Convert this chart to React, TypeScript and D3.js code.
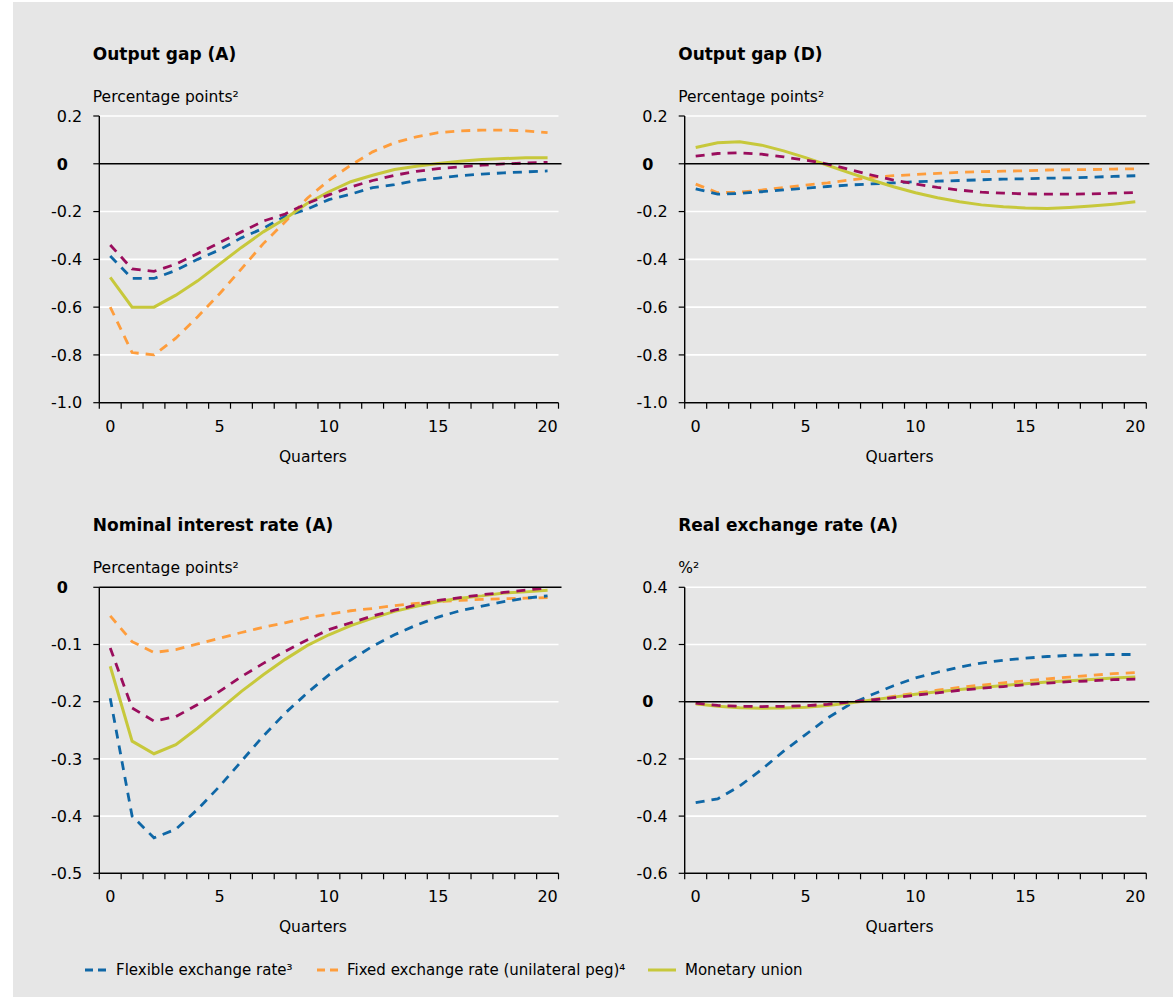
import React from "react";
import * as d3 from "d3";

const quarters = d3.range(0, 21);

// Output gap (A)
const ogA_flex = [-0.386, -0.48, -0.48, -0.446, -0.40, -0.36, -0.31, -0.27, -0.22, -0.19, -0.15, -0.127, -0.10, -0.087, -0.07, -0.06, -0.05, -0.043, -0.038, -0.034, -0.03];
const ogA_fixed = [-0.60, -0.79, -0.80, -0.73, -0.64, -0.544, -0.44, -0.334, -0.243, -0.145, -0.069, -0.006, 0.05, 0.088, 0.113, 0.13, 0.138, 0.141, 0.141, 0.138, 0.13];
const ogA_union = [-0.475, -0.60, -0.60, -0.55, -0.49, -0.42, -0.35, -0.285, -0.23, -0.166, -0.117, -0.075, -0.048, -0.024, -0.01, 0.001, 0.011, 0.018, 0.022, 0.025, 0.025];
const ogA_other = [-0.34, -0.44, -0.45, -0.42, -0.376, -0.33, -0.285, -0.24, -0.21, -0.166, -0.13, -0.097, -0.07, -0.048, -0.032, -0.02, -0.013, -0.006, 0.0, 0.003, 0.006];

// Output gap (D)
const ogD_flex = [-0.105, -0.127, -0.124, -0.117, -0.109, -0.102, -0.095, -0.089, -0.084, -0.08, -0.075, -0.073, -0.07, -0.067, -0.064, -0.063, -0.06, -0.059, -0.056, -0.053, -0.05];
const ogD_fixed = [-0.085, -0.121, -0.119, -0.11, -0.099, -0.089, -0.08, -0.068, -0.057, -0.05, -0.045, -0.04, -0.036, -0.033, -0.031, -0.029, -0.026, -0.025, -0.024, -0.022, -0.021];
const ogD_union = [0.068, 0.088, 0.092, 0.078, 0.054, 0.026, -0.006, -0.038, -0.068, -0.096, -0.121, -0.142, -0.159, -0.172, -0.18, -0.185, -0.187, -0.183, -0.177, -0.169, -0.159];
const ogD_other = [0.032, 0.043, 0.046, 0.04, 0.029, 0.015, -0.001, -0.024, -0.047, -0.068, -0.085, -0.099, -0.11, -0.119, -0.123, -0.126, -0.127, -0.127, -0.126, -0.123, -0.12];

// Nominal interest rate (A)
const ir_flex = [-0.194, -0.40, -0.438, -0.423, -0.388, -0.348, -0.304, -0.26, -0.22, -0.185, -0.153, -0.127, -0.103, -0.083, -0.066, -0.052, -0.041, -0.033, -0.025, -0.019, -0.015];
const ir_fixed = [-0.05, -0.095, -0.114, -0.109, -0.099, -0.089, -0.079, -0.07, -0.062, -0.053, -0.047, -0.041, -0.037, -0.032, -0.028, -0.025, -0.023, -0.021, -0.02, -0.019, -0.018];
const ir_union = [-0.138, -0.269, -0.291, -0.275, -0.246, -0.214, -0.182, -0.153, -0.126, -0.102, -0.083, -0.067, -0.054, -0.042, -0.033, -0.025, -0.019, -0.015, -0.01, -0.008, -0.005];
const ir_other = [-0.106, -0.211, -0.234, -0.226, -0.205, -0.182, -0.156, -0.133, -0.112, -0.092, -0.074, -0.062, -0.05, -0.04, -0.031, -0.023, -0.018, -0.013, -0.009, -0.005, -0.001];

// Real exchange rate (A)
const rx_flex = [-0.353, -0.34, -0.295, -0.237, -0.173, -0.115, -0.057, -0.01, 0.024, 0.056, 0.083, 0.103, 0.121, 0.135, 0.145, 0.152, 0.158, 0.162, 0.164, 0.165, 0.165];
const rx_fixed = [-0.007, -0.014, -0.017, -0.019, -0.017, -0.015, -0.009, -0.002, 0.007, 0.019, 0.03, 0.04, 0.05, 0.058, 0.066, 0.073, 0.08, 0.086, 0.092, 0.098, 0.102];
const rx_union = [-0.007, -0.016, -0.021, -0.023, -0.022, -0.019, -0.013, -0.005, 0.006, 0.016, 0.026, 0.035, 0.043, 0.05, 0.057, 0.063, 0.069, 0.073, 0.078, 0.083, 0.086];
const rx_other = [-0.005, -0.013, -0.016, -0.017, -0.016, -0.014, -0.009, -0.001, 0.006, 0.014, 0.023, 0.031, 0.04, 0.047, 0.053, 0.059, 0.065, 0.07, 0.073, 0.077, 0.079];

const xTickLabels = [0, 5, 10, 15, 20];
const ticksOG = [0.2, 0, -0.2, -0.4, -0.6, -0.8, -1.0];
const ticksIR = [0, -0.1, -0.2, -0.3, -0.4, -0.5];
const ticksRX = [0.4, 0.2, 0, -0.2, -0.4, -0.6];

const legendLabels = ["Flexible exchange rate³", "Fixed exchange rate (unilateral peg)⁴", "Monetary union"];

const COLORS = { flex: "#0f67a6", fixed: "#fe9d3c", union: "#c7c83b", other: "#9a0d5d" };
const FONT = "'DejaVu Sans', sans-serif";

type Series = { values: number[]; color: string; dashed: boolean };

type PanelProps = {
  title: string;
  unit: string;
  left: number;
  right: number;
  top: number;
  bottom: number;
  domain: [number, number];
  ticks: number[];
  series: Series[];
  tickFmt: (v: number) => string;
};

function Panel(p: PanelProps) {
  const x = d3.scaleLinear().domain([-0.5, 20.5]).range([p.left, p.right]);
  const y = d3.scaleLinear().domain(p.domain).range([p.bottom, p.top]);
  const line = d3
    .line<number>()
    .x((_, i) => x(quarters[i]))
    .y((d) => y(d));
  const minorTicks = d3.range(-0.5, 21, 1);
  const labelRight = p.left - 17;
  return (
    <g>
      <text x={p.left - 6.5} y={p.top - 56} fontFamily={FONT} fontWeight="bold" fontSize={17} fill="#000">
        {p.title}
      </text>
      <text x={p.left - 6.5} y={p.top - 14} fontFamily={FONT} fontSize={15.5} fill="#000">
        {p.unit}
      </text>
      {p.ticks
        .filter((t) => Math.abs(t) > 1e-9)
        .map((t) => (
          <line key={"g" + t} x1={p.left} x2={p.right} y1={y(t)} y2={y(t)} stroke="#fff" strokeWidth={1.6} />
        ))}
      {p.series.map((s, i) => (
        <path
          key={i}
          d={line(s.values) || ""}
          fill="none"
          stroke={s.color}
          strokeWidth={s.dashed ? 2.8 : 3}
          strokeDasharray={s.dashed ? "9,7" : undefined}
        />
      ))}
      <line x1={p.left} x2={p.right + 3} y1={y(0)} y2={y(0)} stroke="#000" strokeWidth={1.4} />
      <line x1={p.left} x2={p.left} y1={p.top} y2={p.bottom} stroke="#000" strokeWidth={1.4} />
      <line x1={p.left} x2={p.right} y1={p.bottom} y2={p.bottom} stroke="#000" strokeWidth={1.4} />
      {minorTicks.map((t) => (
        <line key={"xt" + t} x1={x(t)} x2={x(t)} y1={p.bottom} y2={p.bottom + 6} stroke="#000" strokeWidth={1.2} />
      ))}
      {p.ticks.map((t) => (
        <line key={"yt" + t} x1={p.left - 6} x2={p.left} y1={y(t)} y2={y(t)} stroke="#000" strokeWidth={1.2} />
      ))}
      {p.ticks.map((t) =>
        Math.abs(t) < 1e-9 ? (
          <text key={"yl" + t} x={p.left - 42.5} y={y(t)} dy="0.36em" fontFamily={FONT} fontWeight="bold" fontSize={16} fill="#000">
            0
          </text>
        ) : (
          <text key={"yl" + t} x={labelRight} y={y(t)} dy="0.36em" textAnchor="end" fontFamily={FONT} fontSize={16} fill="#000">
            {p.tickFmt(t)}
          </text>
        )
      )}
      {xTickLabels.map((t) => (
        <text key={"xl" + t} x={x(t)} y={p.bottom + 29} textAnchor="middle" fontFamily={FONT} fontSize={16} fill="#000">
          {t}
        </text>
      ))}
      <text x={x(10) - 16} y={p.bottom + 59} textAnchor="middle" fontFamily={FONT} fontSize={15.5} fill="#000">
        Quarters
      </text>
    </g>
  );
}

const fmt1 = (v: number) => d3.format(".1f")(v).replace("−", "-");

export default function App() {
  const mk = (flex: number[], fixed: number[], union: number[], other: number[]): Series[] => [
    { values: fixed, color: COLORS.fixed, dashed: true },
    { values: flex, color: COLORS.flex, dashed: true },
    { values: union, color: COLORS.union, dashed: false },
    { values: other, color: COLORS.other, dashed: true },
  ];
  const L1 = 99.3, R1 = 558.5, L2 = 684.7, R2 = 1146.3;
  const T1 = 116, B1 = 402.7, T2 = 587.3, B2 = 873.3;
  const legendY = 970;
  return (
    <svg width={1173} height={997} style={{ position: "absolute", left: 0, top: 0, display: "block" }}>
      <rect x={13} y={2} width={1160} height={995} fill="#e6e6e6" />
      <Panel title="Output gap (A)" unit="Percentage points²" left={L1} right={R1} top={T1} bottom={B1} domain={[-1.0, 0.2]} ticks={ticksOG} series={mk(ogA_flex, ogA_fixed, ogA_union, ogA_other)} tickFmt={fmt1} />
      <Panel title="Output gap (D)" unit="Percentage points²" left={L2} right={R2} top={T1} bottom={B1} domain={[-1.0, 0.2]} ticks={ticksOG} series={mk(ogD_flex, ogD_fixed, ogD_union, ogD_other)} tickFmt={fmt1} />
      <Panel title="Nominal interest rate (A)" unit="Percentage points²" left={L1} right={R1} top={T2} bottom={B2} domain={[-0.5, 0]} ticks={ticksIR} series={mk(ir_flex, ir_fixed, ir_union, ir_other)} tickFmt={fmt1} />
      <Panel title="Real exchange rate (A)" unit="%²" left={L2} right={R2} top={T2} bottom={B2} domain={[-0.6, 0.4]} ticks={ticksRX} series={mk(rx_flex, rx_fixed, rx_union, rx_other)} tickFmt={fmt1} />
      <g>
        <line x1={85} x2={107} y1={legendY} y2={legendY} stroke={COLORS.flex} strokeWidth={3} strokeDasharray="8,5" />
        <text x={116} y={legendY} dy="0.36em" fontFamily={FONT} fontSize={15} fill="#000">{legendLabels[0]}</text>
        <line x1={317} x2={339} y1={legendY} y2={legendY} stroke={COLORS.fixed} strokeWidth={3} strokeDasharray="8,5" />
        <text x={347} y={legendY} dy="0.36em" fontFamily={FONT} fontSize={15} fill="#000">{legendLabels[1]}</text>
        <line x1={648} x2={676} y1={legendY} y2={legendY} stroke={COLORS.union} strokeWidth={3} />
        <text x={685} y={legendY} dy="0.36em" fontFamily={FONT} fontSize={15} fill="#000">{legendLabels[2]}</text>
      </g>
    </svg>
  );
}
